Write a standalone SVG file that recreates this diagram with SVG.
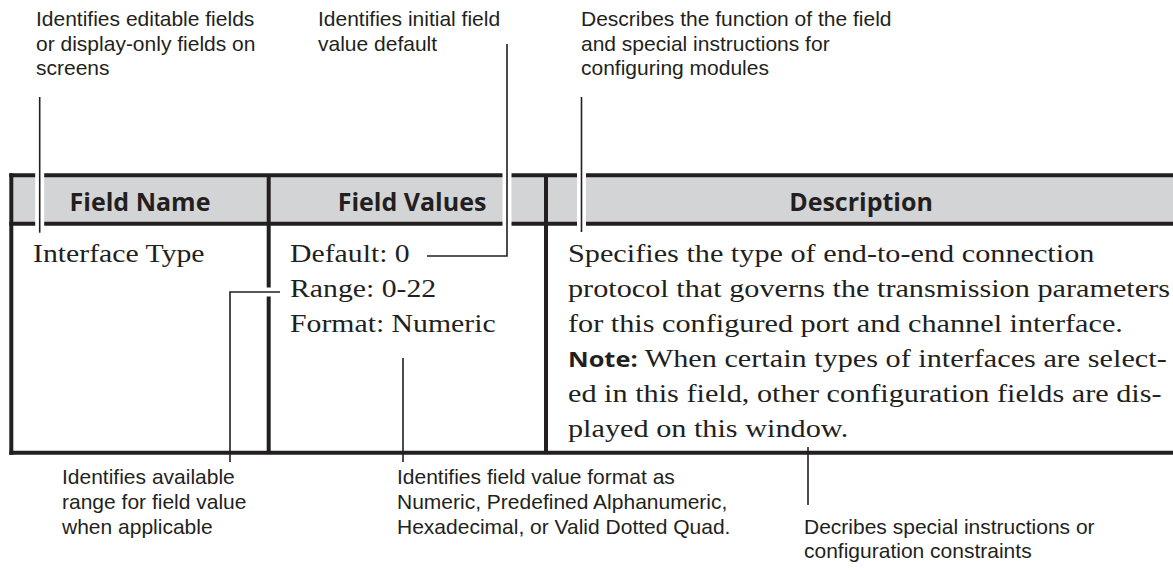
<svg xmlns="http://www.w3.org/2000/svg" width="1173" height="571" viewBox="0 0 1173 571">
  <style>
    .border { stroke: #231f20; stroke-width: 4; fill: none; }
    .header-fill { fill: #d3d4d6; }
    .callout { stroke: #231f20; stroke-width: 1.6; fill: none; }
    .halo { stroke: #ffffff; stroke-width: 9; fill: none; }
    .note { font-family: "Liberation Sans", Arial, sans-serif; font-size: 21px; fill: #231f20; }
    .head { font-family: "Open Sans", "Noto Sans", sans-serif; font-weight: 700; font-size: 25px; fill: #231f20; text-anchor: middle; }
    .body { font-family: "Liberation Serif", "Times New Roman", serif; font-size: 25px; fill: #231f20; }
    .bold { font-family: "Open Sans", "Noto Sans", sans-serif; font-weight: 700; font-size: 21px; }
  </style>

  <!-- field table -->
  <g id="table">
    <rect class="header-fill" x="11" y="177" width="1162" height="46"/>
    <line class="border" x1="9.3" y1="175.3" x2="1173" y2="175.3"/>
    <line class="border" x1="9.3" y1="223.7" x2="1173" y2="223.7"/>
    <line class="border" x1="9.3" y1="452.7" x2="1173" y2="452.7"/>
    <line class="border" x1="11.3" y1="173.3" x2="11.3" y2="454.7"/>
    <line class="border" x1="268.7" y1="175.3" x2="268.7" y2="452.7"/>
    <line class="border" x1="546" y1="175.3" x2="546" y2="452.7"/>
    <text class="head" x="140" y="211">Field Name</text>
    <text class="head" x="412" y="211">Field Values</text>
    <text class="head" x="861" y="211">Description</text>
  </g>

  <!-- body copy is set in a wide book face: stretched horizontally -->
  <g id="cell-field-name" transform="translate(33,0) scale(1.19,1)">
    <text class="body" x="0" y="262">Interface Type</text>
  </g>
  <g id="cell-field-values" transform="translate(290,0) scale(1.19,1)">
    <text class="body" x="0" y="262">Default: 0</text>
    <text class="body" x="0" y="297">Range: 0-22</text>
    <text class="body" x="0" y="332">Format: Numeric</text>
  </g>
  <g id="cell-description" transform="translate(568,0) scale(1.21,1)">
    <text class="body" x="0" y="262">Specifies the type of end-to-end connection</text>
    <text class="body" x="0" y="297">protocol that governs the transmission parameters</text>
    <text class="body" x="0" y="332">for this configured port and channel interface.</text>
    <text class="body" x="0" y="367"><tspan class="bold">Note:</tspan> When certain types of interfaces are select-</text>
    <text class="body" x="0" y="402">ed in this field, other configuration fields are dis-</text>
    <text class="body" x="0" y="437">played on this window.</text>
  </g>

  <!-- callout labels -->
  <g id="label-editable">
    <text class="note" x="36" y="26">Identifies editable fields</text>
    <text class="note" x="36" y="50.5">or display-only fields on</text>
    <text class="note" x="36" y="75">screens</text>
  </g>
  <g id="label-default">
    <text class="note" x="318" y="26">Identifies initial field</text>
    <text class="note" x="318" y="50.5">value default</text>
  </g>
  <g id="label-function">
    <text class="note" x="581" y="26">Describes the function of the field</text>
    <text class="note" x="581" y="50.5">and special instructions for</text>
    <text class="note" x="581" y="75">configuring modules</text>
  </g>
  <g id="label-range">
    <text class="note" x="62" y="484">Identifies available</text>
    <text class="note" x="62" y="509">range for field value</text>
    <text class="note" x="62" y="534">when applicable</text>
  </g>
  <g id="label-format">
    <text class="note" x="397" y="484">Identifies field value format as</text>
    <text class="note" x="397" y="509">Numeric, Predefined Alphanumeric,</text>
    <text class="note" x="397" y="534">Hexadecimal, or Valid Dotted Quad.</text>
  </g>
  <g id="label-constraints">
    <text class="note" x="804" y="534">Decribes special instructions or</text>
    <text class="note" x="804" y="558">configuration constraints</text>
  </g>

  <!-- leader lines, each with a white knock-out where it crosses the table rules -->
  <g id="connectors">
    <line class="halo" x1="39.7" y1="170" x2="39.7" y2="230"/>
    <line class="callout" x1="39.7" y1="97" x2="39.7" y2="232.7"/>

    <line class="halo" x1="507" y1="170" x2="507" y2="230"/>
    <polyline class="callout" points="507,44 507,256 427,256"/>

    <line class="halo" x1="581.5" y1="170" x2="581.5" y2="230"/>
    <line class="callout" x1="581.5" y1="97" x2="581.5" y2="232"/>

    <line class="halo" stroke-width="11" x1="262" y1="292" x2="276" y2="292"/>
    <polyline class="callout" points="280,292 230,292 230,462"/>

    <line class="callout" x1="403" y1="358" x2="403" y2="462"/>

    <line class="callout" x1="808" y1="447" x2="808" y2="505"/>
  </g>
</svg>
